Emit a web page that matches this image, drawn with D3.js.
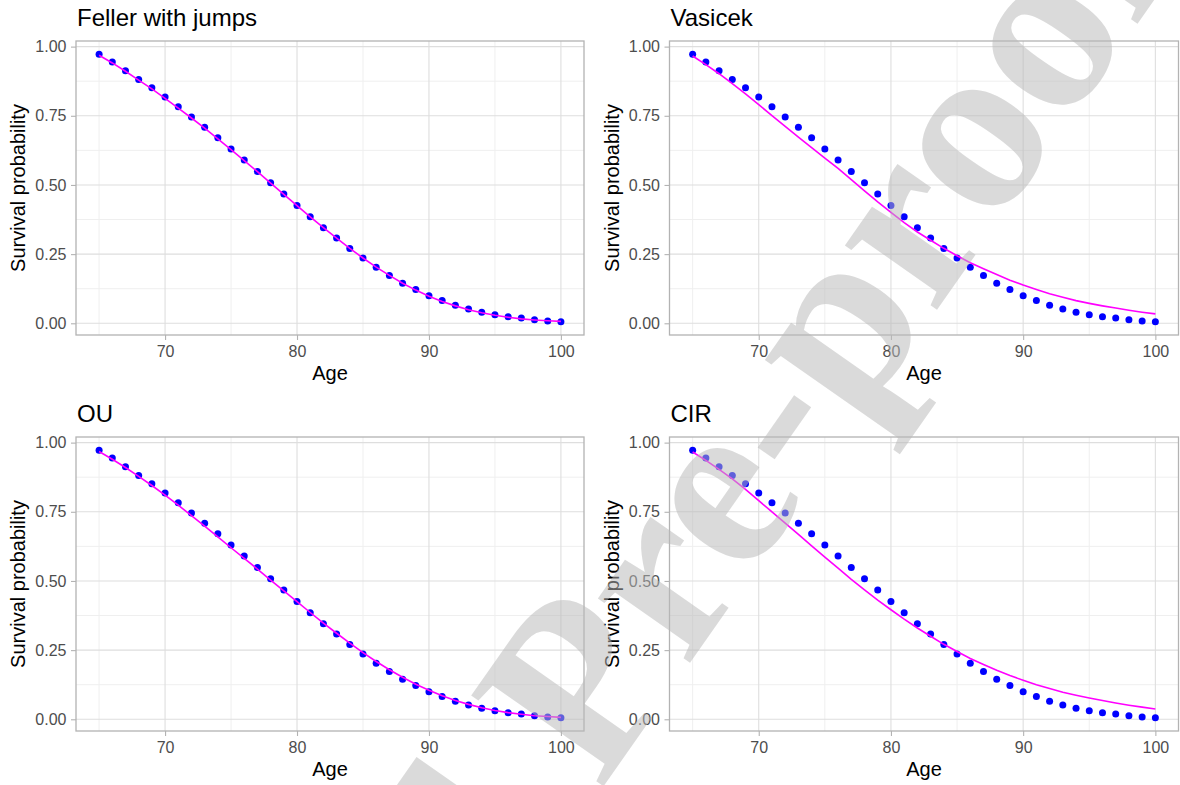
<!DOCTYPE html>
<html>
<head>
<meta charset="utf-8">
<script src="https://cdn.jsdelivr.net/npm/d3@7"></script>
<style>
  body { margin: 0; background: #fff; }
  #chart { width: 1180px; height: 785px; }
  text { font-family: "Liberation Sans", Arial, sans-serif; }
</style>
</head>
<body>
<div id="chart"></div>
<script>
// Survival curves: observed points vs fitted model curves

// ages on the x axis
var ages = [65, 66, 67, 68, 69, 70, 71, 72, 73, 74, 75, 76, 77, 78, 79, 80, 81, 82,
    83, 84, 85, 86, 87, 88, 89, 90, 91, 92, 93, 94, 95, 96, 97, 98, 99, 100];

// observed survival probabilities (blue dots, same in every panel)
var observed = [0.972, 0.944, 0.913, 0.881, 0.851, 0.818, 0.783, 0.746, 0.709, 0.671,
    0.630, 0.590, 0.549, 0.508, 0.467, 0.426, 0.385, 0.345, 0.308, 0.270,
    0.236, 0.203, 0.173, 0.145, 0.122, 0.100, 0.082, 0.065, 0.052, 0.040,
    0.031, 0.024, 0.019, 0.013, 0.008, 0.006];

// fitted curves (magenta lines)
var fellerFit = [0.969, 0.941, 0.911, 0.879, 0.847, 0.813, 0.778, 0.742, 0.705, 0.667,
    0.628, 0.588, 0.548, 0.507, 0.466, 0.425, 0.385, 0.346, 0.308, 0.271,
    0.236, 0.203, 0.173, 0.145, 0.120, 0.098, 0.079, 0.063, 0.049, 0.038,
    0.029, 0.022, 0.016, 0.012, 0.009, 0.007];

var vasicekFit = [0.966, 0.935, 0.902, 0.866, 0.829, 0.790, 0.751, 0.712, 0.673, 0.635,
    0.597, 0.560, 0.519, 0.479, 0.439, 0.401, 0.364, 0.330, 0.300, 0.271,
    0.244, 0.219, 0.197, 0.176, 0.156, 0.138, 0.122, 0.107, 0.094, 0.082,
    0.072, 0.063, 0.055, 0.047, 0.040, 0.034];

var ouFit = [0.968, 0.940, 0.910, 0.878, 0.845, 0.810, 0.774, 0.736, 0.698, 0.659,
    0.620, 0.582, 0.543, 0.503, 0.464, 0.425, 0.386, 0.348, 0.311, 0.275,
    0.241, 0.209, 0.179, 0.152, 0.127, 0.105, 0.085, 0.068, 0.054, 0.042,
    0.032, 0.024, 0.018, 0.013, 0.010, 0.007];

var cirFit = [0.966, 0.936, 0.903, 0.869, 0.831, 0.790, 0.750, 0.709, 0.668, 0.627,
    0.586, 0.546, 0.506, 0.468, 0.431, 0.396, 0.362, 0.330, 0.300, 0.271,
    0.245, 0.220, 0.198, 0.177, 0.158, 0.141, 0.125, 0.111, 0.098, 0.087,
    0.077, 0.068, 0.059, 0.051, 0.044, 0.037];

// axis breaks
var xTicks = [70, 80, 90, 100];
var xMinor = [65, 75, 85, 95];
var yTicks = [0, 0.25, 0.5, 0.75, 1];
var yMinor = [0.125, 0.375, 0.625, 0.875];

var titles = ["Feller with jumps", "Vasicek", "OU", "CIR"];
var fits = [fellerFit, vasicekFit, ouFit, cirFit];

// panel boxes (plot area of each sub-chart)
var boxes = [
    { x0: 76, x1: 584, y0: 41, y1: 335 },
    { x0: 669.5, x1: 1178.5, y0: 41, y1: 335 },
    { x0: 76, x1: 584, y0: 437, y1: 731 },
    { x0: 669.5, x1: 1178.5, y0: 437, y1: 731 }
];

var width = 1180;
var height = 785;

var svg = d3
    .select("#chart")
    .append("svg")
    .attr("width", width)
    .attr("height", height);

// ggplot style 5% expansion of the data range
function expand(ext) {
    var pad = (ext[1] - ext[0]) * 0.05;
    return [ext[0] - pad, ext[1] + pad];
}

titles.forEach(function(title, i) {
    var b = boxes[i];
    var fit = fits[i];

    var xScale = d3
        .scaleLinear()
        .domain(expand(d3.extent(ages)))
        .range([b.x0, b.x1]);
    var yScale = d3
        .scaleLinear()
        .domain(expand(d3.extent(observed.concat(fit))))
        .range([b.y1, b.y0]);

    var g = svg.append("g").attr("class", "panel");

    // minor grid
    g.selectAll(".minorX").data(xMinor).enter()
        .append("line")
        .attr("x1", function(d) { return xScale(d); })
        .attr("x2", function(d) { return xScale(d); })
        .attr("y1", b.y0).attr("y2", b.y1)
        .attr("stroke", "#efefef").attr("stroke-width", 1);
    g.selectAll(".minorY").data(yMinor).enter()
        .append("line")
        .attr("x1", b.x0).attr("x2", b.x1)
        .attr("y1", function(d) { return yScale(d); })
        .attr("y2", function(d) { return yScale(d); })
        .attr("stroke", "#efefef").attr("stroke-width", 1);

    // major grid
    g.selectAll(".majorX").data(xTicks).enter()
        .append("line")
        .attr("x1", function(d) { return xScale(d); })
        .attr("x2", function(d) { return xScale(d); })
        .attr("y1", b.y0).attr("y2", b.y1)
        .attr("stroke", "#dedede").attr("stroke-width", 1.1);
    g.selectAll(".majorY").data(yTicks).enter()
        .append("line")
        .attr("x1", b.x0).attr("x2", b.x1)
        .attr("y1", function(d) { return yScale(d); })
        .attr("y2", function(d) { return yScale(d); })
        .attr("stroke", "#dedede").attr("stroke-width", 1.1);

    // points
    g.selectAll("circle").data(ages).enter()
        .append("circle")
        .attr("cx", function(d) { return xScale(d); })
        .attr("cy", function(d, j) { return yScale(observed[j]); })
        .attr("r", 3.5)
        .attr("fill", "#0000ff");

    // fitted line
    var line = d3.line()
        .x(function(d) { return xScale(d); })
        .y(function(d, j) { return yScale(fit[j]); });
    g.append("path")
        .datum(ages)
        .attr("d", line)
        .attr("fill", "none")
        .attr("stroke", "#ff00ff")
        .attr("stroke-width", 1.6);

    // panel border
    g.append("rect")
        .attr("x", b.x0).attr("y", b.y0)
        .attr("width", b.x1 - b.x0).attr("height", b.y1 - b.y0)
        .attr("fill", "none")
        .attr("stroke", "#b3b3b3").attr("stroke-width", 1.3);

    // axes
    var xAxis = d3.axisBottom(xScale).tickValues(xTicks).tickSize(5).tickPadding(5.6);
    var yAxis = d3.axisLeft(yScale).tickValues(yTicks).tickSize(5).tickPadding(4.5)
        .tickFormat(d3.format(".2f"));

    var gx = g.append("g")
        .attr("transform", "translate(0," + b.y1 + ")")
        .call(xAxis);
    var gy = g.append("g")
        .attr("transform", "translate(" + b.x0 + ",0)")
        .call(yAxis);

    [gx, gy].forEach(function(ax) {
        ax.select(".domain").remove();
        ax.selectAll(".tick line").attr("stroke", "#b3b3b3").attr("stroke-width", 1.1);
        ax.selectAll(".tick text")
            .attr("fill", "#4d4d4d")
            .style("font-size", "16px")
            .style("font-family", "'Liberation Sans', Arial, sans-serif");
    });

    // titles
    g.append("text")
        .attr("x", b.x0 + 1)
        .attr("y", b.y0 - 15)
        .style("font-size", "24px")
        .attr("fill", "#000")
        .text(title);

    g.append("text")
        .attr("x", (b.x0 + b.x1) / 2)
        .attr("y", b.y1 + 45)
        .attr("text-anchor", "middle")
        .style("font-size", "20px")
        .attr("fill", "#000")
        .text("Age");

    g.append("text")
        .attr("transform", "translate(" + (b.x0 - 51) + "," + ((b.y0 + b.y1) / 2) + ")rotate(-90)")
        .attr("text-anchor", "middle")
        .style("font-size", "20px")
        .attr("fill", "#000")
        .text("Survival probability");
});

// watermark over the whole figure
var wmSize = 245;
var wm = svg.append("g")
    .attr("transform", "translate(731,506)rotate(-55)");
var wmText = wm.append("text")
    .style("font-family", "'Liberation Serif', serif")
    .style("font-weight", "bold")
    .style("font-size", wmSize + "px")
    .attr("fill", "#b8b8b8")
    .attr("fill-opacity", 0.52)
    .text("Journal Pre-proof");

// centre the "e" of "Pre" on the anchor point
var eIdx = 10;
var eStart = wmText.node().getStartPositionOfChar(eIdx).x;
var eEnd = wmText.node().getEndPositionOfChar(eIdx).x;
wmText
    .attr("x", -(eStart + eEnd) / 2)
    .attr("y", wmSize * 0.23);
</script>
</body>
</html>
